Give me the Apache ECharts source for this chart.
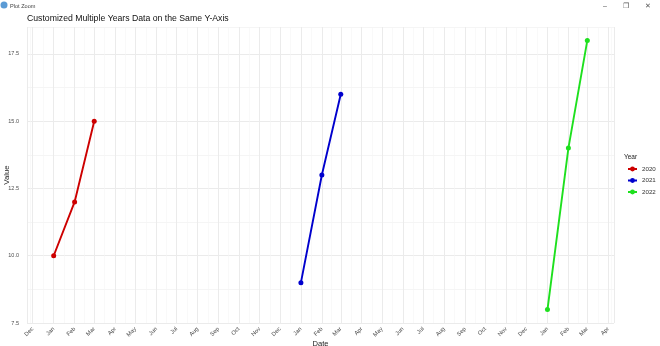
<!DOCTYPE html>
<html>
<head>
<meta charset="utf-8">
<script src="https://cdn.jsdelivr.net/npm/echarts@6/dist/echarts.min.js"></script>
<style>
html,body{margin:0;padding:0;background:#fff;}
#chart{width:660px;height:346px;}
</style>
</head>
<body>
<div id="chart"></div>
<script>
// ---- data ----
const years = ['2020', '2021', '2022'];
const monthsOfData = [1, 2, 3]; // Jan, Feb, Mar
const values2020 = [10, 12, 15];
const values2021 = [9, 13, 16];
const values2022 = [8, 14, 18];
const seriesColors = ['#cd0000', '#0000cd', '#1ee01e'];
const monthNames = ['Jan','Feb','Mar','Apr','May','Jun','Jul','Aug','Sep','Oct','Nov','Dec'];
const yTickLabels = ['7.5', '10.0', '12.5', '15.0', '17.5'];

const valuesByYear = [values2020, values2021, values2022];
function d(y, m, day) { return new Date(y, m - 1, day).getTime(); }
// ggplot-like 5% expansion of date range
const firstDate = d(2020, 1, 1), lastDate = d(2022, 3, 1);
const pad = (lastDate - firstDate) * 0.05;

const series = years.map((yr, i) => ({
  name: yr,
  type: 'line',
  data: monthsOfData.map((m, j) => [d(+yr, m, 1), valuesByYear[i][j]]),
  symbol: 'circle',
  symbolSize: 5,
  lineStyle: { width: 1.9, color: seriesColors[i] },
  itemStyle: { color: seriesColors[i] },
  emphasis: { disabled: true },
  animation: false
}));

const FONT = 'Liberation Sans, Arial, sans-serif';
const chart = echarts.init(document.getElementById('chart'));
chart.setOption({
  animation: false,
  backgroundColor: '#ffffff',
  title: [
    { text: 'Customized Multiple Years Data on the Same Y-Axis', left: 27, top: 14, padding: 0,
      textStyle: { fontSize: 8.7, fontWeight: 'normal', color: '#111', fontFamily: FONT } },
    { text: 'Plot Zoom', left: 10, top: 3, padding: 0,
      textStyle: { fontSize: 5.6, fontWeight: 'normal', color: '#444', fontFamily: FONT } },
    { text: 'Year', left: 624, top: 154, padding: 0,
      textStyle: { fontSize: 6.5, fontWeight: 'normal', color: '#222', fontFamily: FONT } }
  ],
  graphic: [
    { type: 'circle', shape: { cx: 4, cy: 5, r: 3.5 }, style: { fill: '#5b9bd5' } },
    { type: 'text', x: 605, y: 6, style: { text: '–', fontSize: 7, fill: '#555', align: 'center', verticalAlign: 'middle' } },
    { type: 'text', x: 626, y: 6, style: { text: '❐', fontSize: 7, fill: '#555', align: 'center', verticalAlign: 'middle' } },
    { type: 'text', x: 648, y: 6, style: { text: '✕', fontSize: 7, fill: '#555', align: 'center', verticalAlign: 'middle' } }
  ],
  legend: {
    orient: 'vertical', left: 627, top: 166, padding: 0,
    itemWidth: 9, itemHeight: 6, itemGap: 5.5,
    textStyle: { fontSize: 6.2, color: '#333', fontFamily: FONT },
    data: years
  },
  grid: { left: 27, right: 46, top: 27, bottom: 23, containLabel: false, outerBoundsMode: 'none' },
  xAxis: {
    type: 'time',
    min: firstDate - pad,
    max: lastDate + pad,
    minInterval: 27 * 24 * 3600 * 1000,
    maxInterval: 32 * 24 * 3600 * 1000,
    name: 'Date', nameLocation: 'middle', nameGap: 17, nameMoveOverlap: false,
    nameTextStyle: { fontSize: 7.6, color: '#222', fontFamily: FONT },
    axisLine: { show: false },
    axisTick: { show: false },
    axisLabel: {
      rotate: 45, fontSize: 5.8, color: '#4d4d4d', margin: 5, hideOverlap: false,
      fontFamily: FONT,
      formatter: v => monthNames[new Date(v).getMonth()]
    },
    splitLine: { show: true, lineStyle: { color: '#ebebeb', width: 1 } },
    minorTick: { show: false, splitNumber: 2 },
    minorSplitLine: { show: true, lineStyle: { color: '#f5f5f5', width: 0.6 } }
  },
  yAxis: {
    type: 'value',
    min: 7.5, max: 18.5, interval: 1.25,
    name: 'Value', nameLocation: 'middle', nameGap: 16, nameRotate: 90, nameMoveOverlap: false,
    nameTextStyle: { fontSize: 7.8, color: '#222', fontFamily: FONT },
    axisLine: { show: false },
    axisTick: { show: false },
    axisLabel: {
      fontSize: 5.5, color: '#4d4d4d', margin: 8,
      fontFamily: FONT,
      formatter: v => {
        const idx = yTickLabels.indexOf(v.toFixed(1));
        return idx >= 0 ? yTickLabels[idx] : '';
      }
    },
    splitLine: { show: true, lineStyle: { color: ['#ebebeb', '#f5f5f5'], width: 1 } }
  },
  series: series
});
</script>
</body>
</html>
